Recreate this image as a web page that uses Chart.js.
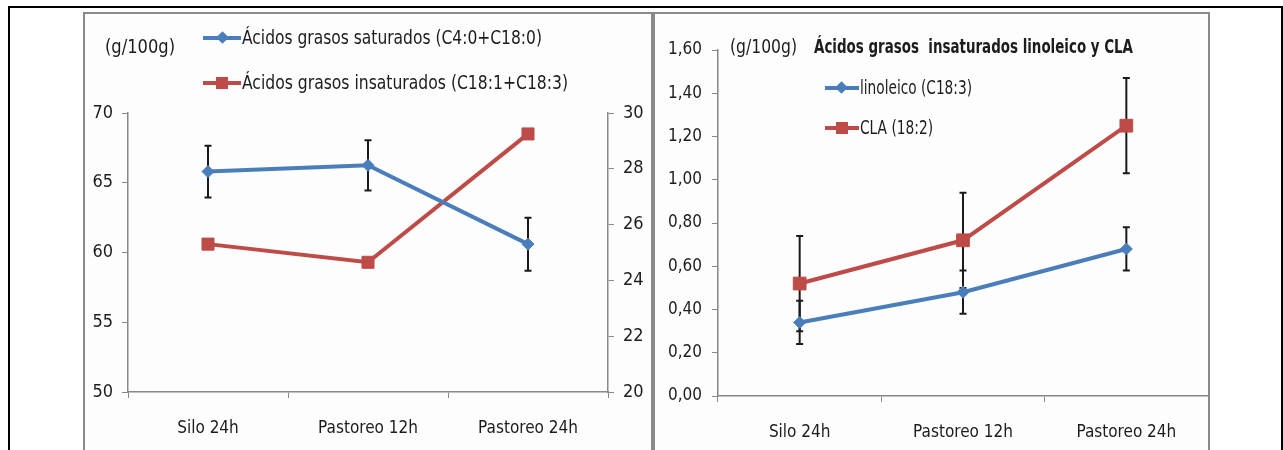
<!DOCTYPE html>
<html>
<head>
<meta charset="utf-8">
<script src="https://cdn.jsdelivr.net/npm/chart.js@4.4.1/dist/chart.umd.min.js"></script>
<style>
  body { margin: 0; background: #fff; font-family: 'Liberation Sans Narrow', 'DejaVu Sans Condensed', 'Open Sans', sans-serif; }
  #page { position: relative; width: 1283px; height: 450px; overflow: hidden; }
  .frame { position: absolute; left: 8px; top: 6px; width: 1271px; height: 480px; border: 2px solid #000; border-bottom: none; }
  .box { position: absolute; top: 12px; height: 470px; border: 2px solid #8a8a8a; border-bottom: none; background: #fdfdfd; }
  canvas { position: absolute; top: 0; }
  .txt { position: absolute; color: #1c1c1c; font-size: 20px; white-space: nowrap; line-height: 1; transform-origin: 0 50%; }
  .leg { position: absolute; height: 20px; }
  .leg .ln { position: absolute; left: 0; top: 8px; height: 4px; }
  .leg .mk { position: absolute; }
</style>
</head>
<body>
<div id="page">
  <div class="frame"></div>
  <div class="box" style="left:83px; width:566px;"></div>
  <div class="box" style="left:652px; width:553px; border-left-width:3px;"></div>
  <canvas id="chartA" width="660" height="450" style="left:0px"></canvas>
  <canvas id="chartB" width="628" height="450" style="left:655px"></canvas>

  <div class="txt" data-w="70" style="left:105px; top:36px;">(g/100g)</div>
  <div class="leg" style="left:203px; top:28px;"><div class="ln" style="width:38px;background:#4A7EBB"></div><div class="mk" style="left:15px;top:5px;width:9px;height:9px;background:#4A7EBB;transform:rotate(45deg)"></div></div>
  <div class="txt" data-w="300" style="left:242px; top:27px;">Ácidos grasos saturados (C4:0+C18:0)</div>
  <div class="leg" style="left:203px; top:73px;"><div class="ln" style="width:38px;background:#BE4B48"></div><div class="mk" style="left:13px;top:4px;width:12px;height:12px;background:#BE4B48"></div></div>
  <div class="txt" data-w="326" style="left:242px; top:72px;">Ácidos grasos insaturados (C18:1+C18:3)</div>

  <div class="txt" data-w="67" style="left:730px; top:36px;">(g/100g)</div>
  <div class="txt" data-w="319" style="left:814px; top:36px; font-weight:bold;">Ácidos grasos&nbsp; insaturados linoleico y CLA</div>
  <div class="leg" style="left:825px; top:78px;"><div class="ln" style="width:34px;background:#4A7EBB"></div><div class="mk" style="left:12px;top:5px;width:9px;height:9px;background:#4A7EBB;transform:rotate(45deg)"></div></div>
  <div class="txt" data-w="112" style="left:860px; top:77px;">linoleico (C18:3)</div>
  <div class="leg" style="left:825px; top:118px;"><div class="ln" style="width:34px;background:#BE4B48"></div><div class="mk" style="left:11px;top:4px;width:12px;height:12px;background:#BE4B48"></div></div>
  <div class="txt" data-w="73" style="left:860px; top:117px;">CLA (18:2)</div>
</div>

<script>
// datos
const categories = ["Silo 24h", "Pastoreo 12h", "Pastoreo 24h"];

const saturados = [65.8, 66.25, 60.6];
const saturadosErr = [1.85, 1.8, 1.9];
const insaturados = [25.3, 24.65, 29.25];

const linoleico = [0.34, 0.48, 0.68];
const linoleicoErr = [0.10, 0.10, 0.10];
const cla = [0.52, 0.72, 1.25];
const claErr = [0.22, 0.22, 0.22];

const leftTicks = [50, 55, 60, 65, 70];
const rightTicks = [20, 22, 24, 26, 28, 30];
const claTicks = [0, 0.2, 0.4, 0.6, 0.8, 1.0, 1.2, 1.4, 1.6];

const BLUE = "#4A7EBB";
const RED = "#BE4B48";
const AXIS = "#888888";
const FONT = "'Liberation Sans Narrow', 'DejaVu Sans Condensed', 'Open Sans', sans-serif";

Chart.defaults.font.family = FONT;
Chart.defaults.font.size = 18;
Chart.defaults.color = "#1c1c1c";

// el texto del original es más estrecho: se comprime a lo ancho
document.querySelectorAll(".txt[data-w]").forEach((el) => {
    const w = el.getBoundingClientRect().width;
    el.style.transform = `scaleX(${Number(el.dataset.w) / w})`;
});

// barras de error dibujadas con las escalas del gráfico
const errorBars = {
    id: "errorBars",
    beforeDatasetsDraw(chart) {
        const ctx = chart.ctx;
        chart.data.datasets.forEach((ds, i) => {
            if (!ds.err) return;
            const meta = chart.getDatasetMeta(i);
            const yScale = chart.scales[meta.yAxisID];
            ctx.save();
            ctx.strokeStyle = "#1a1a1a";
            ctx.lineWidth = 2;
            meta.data.forEach((pt, j) => {
                const top = yScale.getPixelForValue(ds.data[j] + ds.err[j]);
                const bot = yScale.getPixelForValue(ds.data[j] - ds.err[j]);
                ctx.beginPath();
                ctx.moveTo(pt.x, top);
                ctx.lineTo(pt.x, bot);
                ctx.moveTo(pt.x - 3.5, top);
                ctx.lineTo(pt.x + 3.5, top);
                ctx.moveTo(pt.x - 3.5, bot);
                ctx.lineTo(pt.x + 3.5, bot);
                ctx.stroke();
            });
            ctx.restore();
        });
    },
};

function fixedWidth(w) {
    return (scale) => { scale.width = w; };
}
function fixedHeight(h) {
    return (scale) => { scale.height = h; };
}

function xAxis(h) {
    return {
        type: "category",
        offset: true,
        grid: { offset: true, drawOnChartArea: false, drawTicks: true, tickLength: 6, color: AXIS },
        border: { color: AXIS, width: 1.5 },
        ticks: { padding: 20, font: { size: 17 } },
        afterFit: fixedHeight(h),
    };
}

function yAxis(ticks, opts) {
    return Object.assign({
        min: ticks[0],
        max: ticks[ticks.length - 1],
        afterBuildTicks: (scale) => { scale.ticks = ticks.map((v) => ({ value: v })); },
        grid: { drawOnChartArea: false, drawTicks: true, tickLength: 6, color: AXIS },
        border: { color: AXIS, width: 1.5 },
    }, opts);
}

const baseLine = {
    borderWidth: 4,
    pointBorderWidth: 1,
    tension: 0,
};

new Chart(document.getElementById("chartA").getContext("2d"), {
    type: "line",
    data: {
        labels: categories,
        datasets: [
            Object.assign({}, baseLine, {
                label: "Ácidos grasos saturados (C4:0+C18:0)",
                data: saturados,
                err: saturadosErr,
                yAxisID: "y",
                borderColor: BLUE,
                backgroundColor: BLUE,
                pointStyle: "rectRot",
                pointRadius: 6,
            }),
            Object.assign({}, baseLine, {
                label: "Ácidos grasos insaturados (C18:1+C18:3)",
                data: insaturados,
                yAxisID: "y1",
                borderColor: RED,
                backgroundColor: RED,
                pointStyle: "rect",
                pointRadius: 8.5,
            }),
        ],
    },
    options: {
        responsive: false,
        animation: false,
        devicePixelRatio: 1,
        layout: { padding: { top: 113, left: 0, right: 0, bottom: 0 } },
        plugins: { legend: { display: false }, tooltip: { enabled: false } },
        scales: {
            x: xAxis(58),
            y: yAxis(leftTicks, { position: "left", ticks: { padding: 9 }, afterFit: fixedWidth(128) }),
            y1: yAxis(rightTicks, { position: "right", ticks: { padding: 9 }, afterFit: fixedWidth(52) }),
        },
    },
    plugins: [errorBars],
});

new Chart(document.getElementById("chartB").getContext("2d"), {
    type: "line",
    data: {
        labels: categories,
        datasets: [
            Object.assign({}, baseLine, {
                label: "linoleico (C18:3)",
                data: linoleico,
                err: linoleicoErr,
                borderColor: BLUE,
                backgroundColor: BLUE,
                pointStyle: "rectRot",
                pointRadius: 6,
            }),
            Object.assign({}, baseLine, {
                label: "CLA (18:2)",
                data: cla,
                err: claErr,
                borderColor: RED,
                backgroundColor: RED,
                pointStyle: "rect",
                pointRadius: 9,
            }),
        ],
    },
    options: {
        responsive: false,
        animation: false,
        devicePixelRatio: 1,
        layout: { padding: { top: 50, left: 0, right: 75, bottom: 0 } },
        plugins: { legend: { display: false }, tooltip: { enabled: false } },
        scales: {
            x: xAxis(54),
            y: yAxis(claTicks, {
                position: "left",
                ticks: { padding: 10, font: { size: 17 }, callback: (v) => v.toFixed(2).replace(".", ",") },
                afterFit: fixedWidth(63),
            }),
        },
    },
    plugins: [errorBars],
});
</script>
</body>
</html>
